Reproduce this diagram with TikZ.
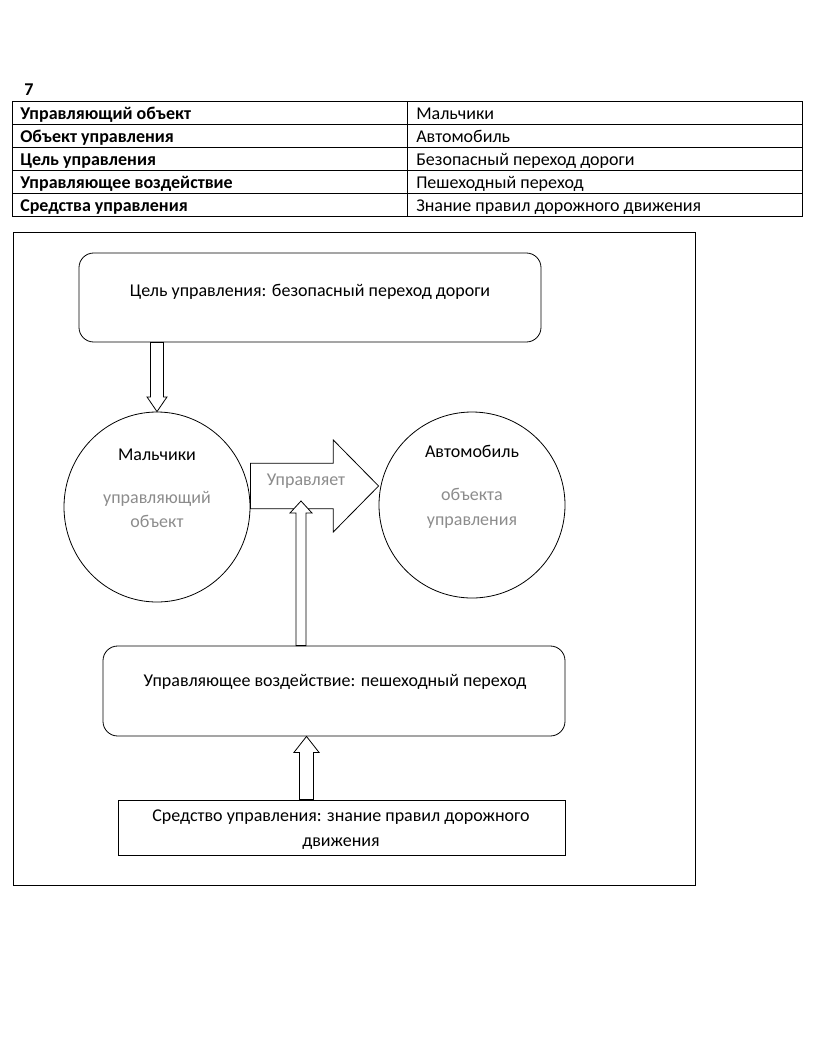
\documentclass[tikz,border=0pt]{standalone}
\usepackage{fontspec}
\setmainfont{Carlito}
\usetikzlibrary{calc,shapes.geometric}
% wide arrow: from, to, half shaft, half head, head length
\newcommand{\blockarrow}[5]{
    \coordinate (#1-#2) at ($(#2)!#5!(#1)$);
    \draw[thinline, fill=white]
    ($(#1)!#3!90:(#2)$) --
    ($(#1-#2)!#3!90:(#2)$) --
    ($(#1-#2)!#4!90:(#2)$) --
    (#2) --
    ($(#1-#2)!#4!-90:(#2)$) --
    ($(#1-#2)!#3!-90:(#2)$) --
    ($(#1)!#3!-90:(#2)$) -- cycle;
}
\begin{document}
\begin{tikzpicture}[x=0.75pt,y=-0.75pt,
    every node/.style={font=\fontsize{13.5}{16}\selectfont, inner sep=0pt},
    txt/.style={anchor=base},
    thinline/.style={line width=0.6pt},
    roundbox/.style={draw, thinline, rounded corners=11pt, minimum width=346.5pt},
    oval/.style={draw, thinline, ellipse, minimum width=139.5pt, minimum height=142.5pt},
    faded/.style={txt, text=black!45}]
    \useasboundingbox (0,0) rectangle (823,1039);
    % table
    \node[txt, font=\fontsize{13.5}{16}\selectfont\bfseries] (num) at (29,95) {7};
    \draw[thinline] (12,101) rectangle (802,216);
    \draw[thinline] (407,101) -- (407,216);
    \foreach \y in {124,147,170,193}
    \draw[thinline] (12,\y) -- (802,\y);
    \foreach \lab/\val [count=\i] in {Управляющий объект/Мальчики,
        Объект управления/Автомобиль,
        Цель управления/Безопасный переход дороги,
        Управляющее воздействие/Пешеходный переход,
        Средства управления/Знание правил дорожного движения}
    {
        \node[anchor=base west, font=\fontsize{13.5}{16}\selectfont\bfseries] (lab\i) at (20,96+23*\i) {\lab};
        \node[anchor=base west] (val\i) at (416,96+23*\i) {\val};
    }
    % scheme
    \draw[thinline] (13,232) rectangle (695,885);
    \node[roundbox, minimum height=66.75pt] (goal) at (310,297.5) {};
    \node[txt] (goaltext) at (310,296) {Цель управления: безопасный переход дороги};
    \node[oval] (boys) at (157,507) {};
    \node[txt] (boystext) at (157,460) {Мальчики};
    \node[faded] (boysrole) at (157,503) {управляющий};
    \node[faded] (boysrole2) at (157,527) {объект};
    \node[oval, minimum height=139.5pt] (car) at (472,505) {};
    \node[txt] (cartext) at (472,457) {Автомобиль};
    \node[faded] (carrole) at (472,500) {объекта};
    \node[faded] (carrole2) at (472,525) {управления};
    \node[roundbox, minimum height=67.5pt] (effect) at (334,691) {};
    \node[txt] (effecttext) at (335,686) {Управляющее воздействие: пешеходный переход};
    \node[draw, thinline, minimum width=335.25pt, minimum height=41.25pt] (means) at (341.5,827.5) {};
    \node[txt] (meanstext) at (341,821) {Средство управления: знание правил дорожного};
    \node[txt] (meanstext2) at (341,846) {движения};
    % arrows
    \coordinate (downA) at (goal.south -| boys.north);
    \coordinate (downB) at (boys.north);
    \blockarrow{downA}{downB}{4.9pt}{7.5pt}{11pt}
    \coordinate (rightA) at ($(boys.east)+(0,-21)$);
    \coordinate (rightB) at (rightA -| car.west);
    \blockarrow{rightA}{rightB}{17pt}{34.5pt}{34pt}
    \node[faded] (ruletext) at (306,485) {Управляет};
    \coordinate (upB) at (301,501);
    \coordinate (upA) at (effect.north -| upB);
    \blockarrow{upA}{upB}{3.75pt}{8.25pt}{9pt}
    \coordinate (meansA) at ($(means.north)+(-35,0)$);
    \coordinate (meansB) at (meansA |- effect.south);
    \blockarrow{meansA}{meansB}{5.25pt}{9.4pt}{12pt}
\end{tikzpicture}
\end{document}
